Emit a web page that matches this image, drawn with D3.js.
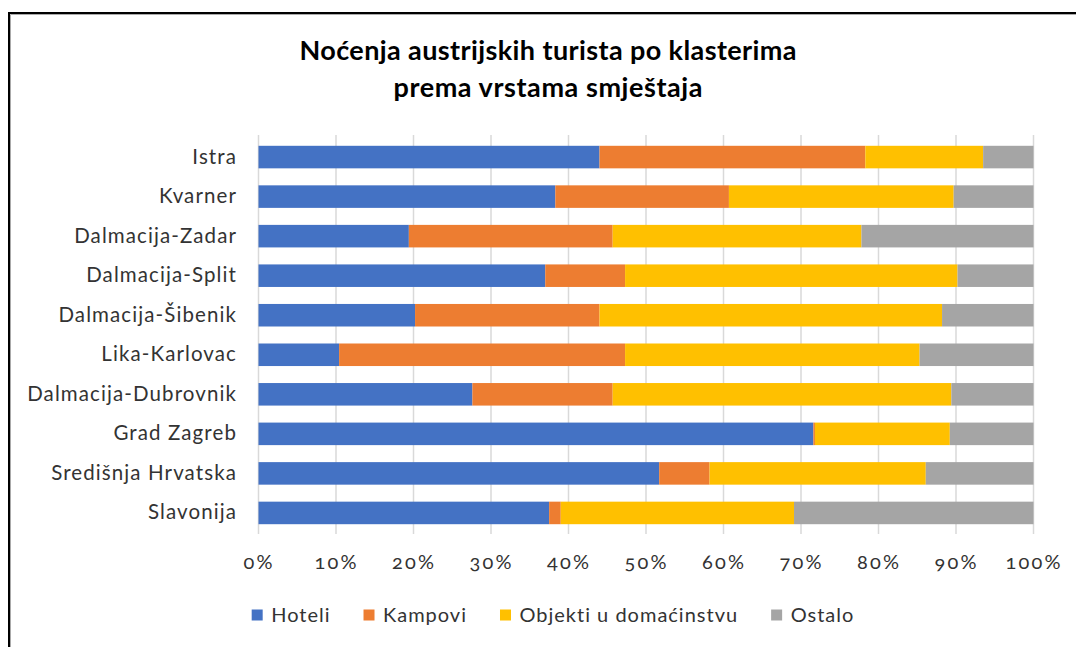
<!DOCTYPE html>
<html>
<head>
<meta charset="utf-8">
<script src="https://cdn.jsdelivr.net/npm/d3@7"></script>
<style>
	body { margin: 0; background: #fff; }
	svg text { font-family: Lato, "Open Sans", sans-serif; }
</style>
</head>
<body>
<svg id="chart" width="1076" height="647"></svg>
<script>

const categories = ['Istra', 'Kvarner', 'Dalmacija-Zadar', 'Dalmacija-Split', 'Dalmacija-Šibenik',
	'Lika-Karlovac', 'Dalmacija-Dubrovnik', 'Grad Zagreb', 'Središnja Hrvatska', 'Slavonija'];

const seriesNames = ['Hoteli', 'Kampovi', 'Objekti u domaćinstvu', 'Ostalo'];
const seriesColors = ['#4472C4', '#ED7D31', '#FFC000', '#A5A5A5'];

// shares in %
const hoteli  = [44.0, 38.3, 19.4, 37.0, 20.2, 10.4, 27.6, 71.6, 51.7, 37.5];
const kampovi = [34.3, 22.4, 26.3, 10.3, 23.8, 36.9, 18.1,  0.2,  6.5,  1.5];
const objekti = [15.2, 29.0, 32.1, 42.9, 44.2, 38.0, 43.7, 17.4, 27.9, 30.1];
const ostalo  = [ 6.5, 10.3, 22.2,  9.8, 11.8, 14.7, 10.6, 10.8, 13.9, 30.9];

const xTicks = [0, 10, 20, 30, 40, 50, 60, 70, 80, 90, 100];

const titleLines = ['Noćenja austrijskih turista po klasterima', 'prema vrstama smještaja'];
const titleWidths = [497, 309];

const rows = categories.map((c, i) => ({
	cat: c,
	'Hoteli': hoteli[i],
	'Kampovi': kampovi[i],
	'Objekti u domaćinstvu': objekti[i],
	'Ostalo': ostalo[i]
}));

const svg = d3.select('#chart');
const textColor = '#333';

// frame
svg.append('path')
	.attr('d', 'M10.5,1076 V14.5 H1076')
	.attr('fill', 'none')
	.attr('stroke', '#aaa')
	.attr('stroke-width', 1);
svg.append('path')
	.attr('d', 'M9,647 V13 H1076')
	.attr('fill', 'none')
	.attr('stroke', '#000')
	.attr('stroke-width', 2);

// title
svg.append('g').selectAll('text')
	.data(titleLines)
	.join('text')
	.attr('x', 548)
	.attr('y', (d, i) => 60 + i * 37)
	.attr('text-anchor', 'middle')
	.attr('font-size', 27)
	.attr('font-weight', 'bold')
	.attr('fill', '#000')
	.attr('textLength', (d, i) => titleWidths[i])
	.attr('lengthAdjust', 'spacing')
	.text(d => d);

const x = d3.scaleLinear().domain([0, 100]).range([258.5, 1033.5]);
const y = d3.scaleBand().domain(categories).range([137.3, 532.7]).paddingInner(0.43).paddingOuter(0.215);

// gridlines
svg.append('g').selectAll('line')
	.data(xTicks)
	.join('line')
	.attr('x1', d => x(d)).attr('x2', d => x(d))
	.attr('y1', 135).attr('y2', 534)
	.attr('stroke', '#d9d9d9')
	.attr('stroke-width', 1.5);

// stacked bars
const stack = d3.stack().keys(seriesNames)(rows);
const color = d3.scaleOrdinal().domain(seriesNames).range(seriesColors);

svg.append('g').selectAll('g')
	.data(stack)
	.join('g')
	.attr('fill', d => color(d.key))
	.selectAll('rect')
	.data(d => d)
	.join('rect')
	.attr('x', d => x(d[0]))
	.attr('width', d => x(d[1]) - x(d[0]))
	.attr('y', d => y(d.data.cat))
	.attr('height', y.bandwidth());

// x axis labels
const xAxis = d3.axisBottom(x).tickValues(xTicks).tickSize(0).tickPadding(0).tickFormat(d => d + '%');
svg.append('g')
	.attr('transform', 'translate(0,555)')
	.call(xAxis)
	.call(g => g.select('.domain').remove())
	.selectAll('text')
	.attr('font-size', 20)
	.attr('letter-spacing', 2.2)
	.attr('fill', textColor)
	.style('font-variant-numeric', 'oldstyle-nums');

// category labels
const yAxis = d3.axisLeft(y).tickSize(0).tickPadding(0);
svg.append('g')
	.attr('transform', 'translate(237,0)')
	.call(yAxis)
	.call(g => g.select('.domain').remove())
	.selectAll('text')
	.attr('font-size', 20.5)
	.attr('letter-spacing', 1.1)
	.attr('fill', textColor);

// legend
const legend = svg.append('g').attr('transform', 'translate(0,615)');
const items = legend.selectAll('g')
	.data(seriesNames)
	.join('g');
items.append('rect')
	.attr('width', 11).attr('height', 11)
	.attr('y', -5.5)
	.attr('fill', d => color(d));
items.append('text')
	.attr('x', 19.5)
	.attr('dy', '0.35em')
	.attr('font-size', 20)
	.attr('letter-spacing', 1)
	.attr('fill', textColor)
	.text(d => d);

let pos = 0;
items.each(function() {
	d3.select(this).attr('transform', `translate(${pos},0)`);
	pos += 19.5 + this.querySelector('text').getComputedTextLength() + 33;
});
const legendWidth = pos - 33;
legend.attr('transform', `translate(${553 - legendWidth / 2},615)`);

</script>
</body>
</html>
